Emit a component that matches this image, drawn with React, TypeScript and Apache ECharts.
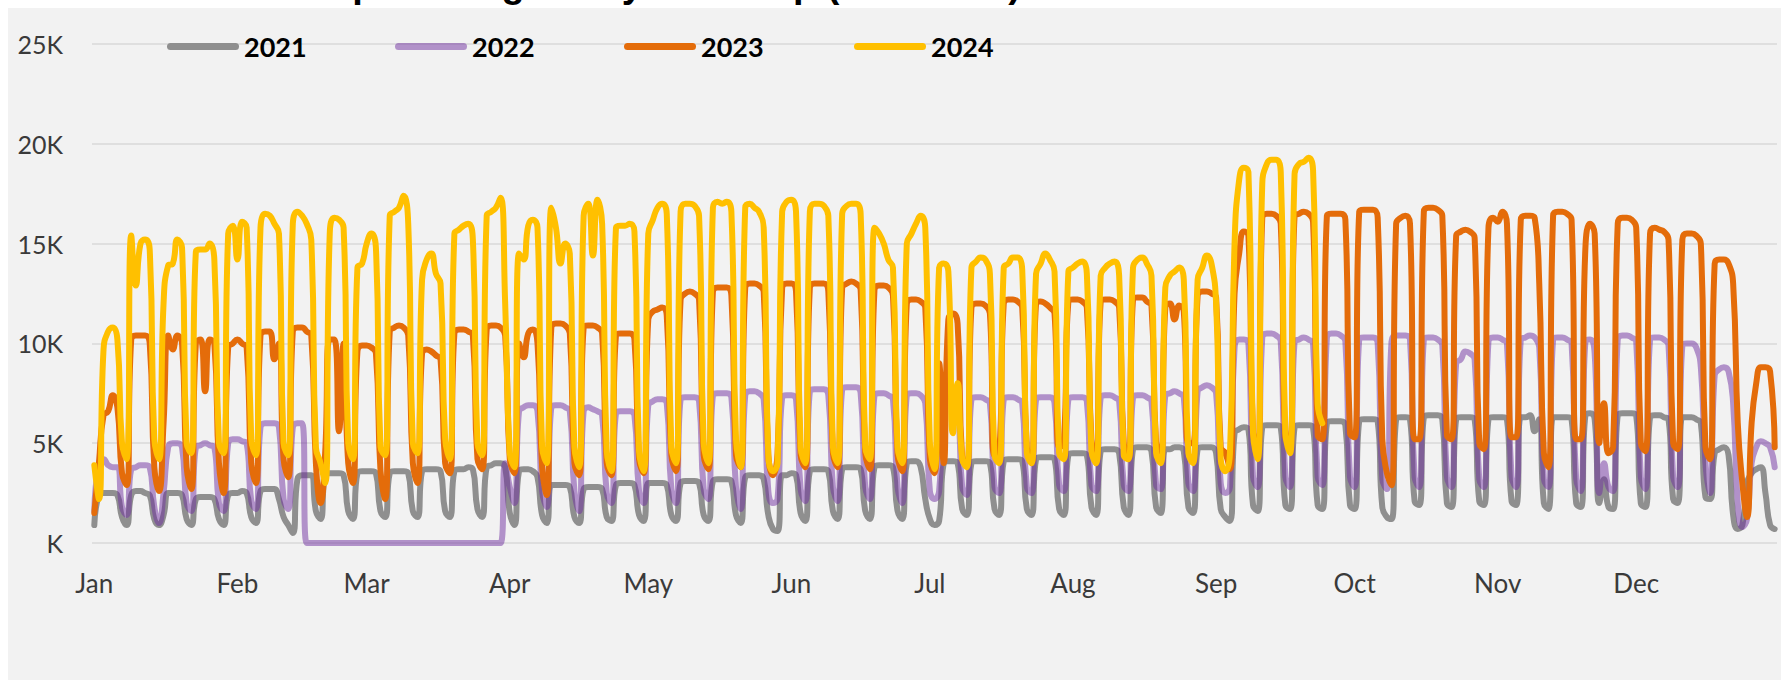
import React, { useEffect, useRef } from "react";
import * as echarts from "echarts";

const MONTHS = ["Jan", "Feb", "Mar", "Apr", "May", "Jun", "Jul", "Aug", "Sep", "Oct", "Nov", "Dec"];
const MONTH_DAYS = [31, 28, 31, 30, 31, 30, 31, 31, 30, 31, 30, 31];
const YEARS = ["2021", "2022", "2023", "2024"];
const COLORS = ["#8f8f8f", "rgba(112,48,160,0.5)", "#e46c0a", "#ffc000"];
const TITLE = "SamTrans Ridership: Average daily ridership (APC data)";

// Daily riders in hundreds, weekday-aligned (each row: Sun..Sat)
const R2021 = [
  9,24,25,25,25,24,13,
  9,24,26,26,25,24,12,
  9,14,25,25,25,24,12,
  9,22,23,23,23,22,12,
  9,24,25,25,26,25,13,
  10,26,27,27,27,22,13,
  9,5,32,34,34,34,16,
  12,34,35,35,35,34,16,
  12,35,36,36,36,35,16,
  13,35,36,36,36,35,16,
  13,36,37,37,37,36,16,
  13,36,37,37,38,37,17,
  13,38,39,40,40,38,15,
  9,36,37,37,36,33,14,
  10,29,29,29,29,28,13,
  10,27,28,28,28,27,13,
  11,29,30,30,30,29,14,
  11,30,30,30,30,29,14,
  11,30,31,31,31,30,14,
  11,31,32,32,32,31,14,
  10,33,34,34,34,32,14,
  7,6,34,34,35,34,15,
  11,36,37,37,37,36,16,
  12,37,38,38,38,37,16,
  12,38,39,39,39,38,16,
  12,40,41,41,38,22,12,
  9,11,40,41,41,40,17,
  14,40,41,41,41,40,17,
  14,41,42,42,42,41,17,
  14,42,43,43,43,42,17,
  14,44,45,45,45,44,18,
  14,46,47,47,47,45,18,
  14,47,48,48,48,46,18,
  15,47,47,48,48,46,18,
  15,47,48,48,48,45,17,
  13,11,55,57,58,57,19,
  16,58,59,59,59,58,19,
  17,58,59,59,59,58,19,
  17,60,61,61,61,59,19,
  17,61,62,62,62,61,18,
  13,12,62,63,63,62,21,
  19,63,64,64,64,62,20,
  18,62,63,63,63,62,21,
  19,62,63,63,63,62,21,
  19,63,63,64,56,62,20,
  17,63,63,63,63,62,20,
  18,64,65,62,20,32,18,
  17,64,65,65,65,64,20,
  18,63,64,64,63,62,22,
  20,63,63,63,62,60,23,
  22,45,47,48,44,14,7,
  9,30,35,37,38,25,9,
  7
];

const R2022 = [
  16,40,42,39,38,38,18,
  14,37,38,39,39,38,18,
  10,25,48,50,50,48,20,
  16,48,49,50,49,48,20,
  16,50,52,52,51,50,21,
  17,58,60,60,60,58,22,
  17,58,60,60,0,0,0,
  0,0,0,0,0,0,0,
  0,0,0,0,0,0,0,
  0,0,0,0,0,0,0,
  0,0,0,0,0,0,0,
  0,0,0,0,0,0,0,
  0,0,0,0,0,40,28,
  20,66,68,69,69,66,26,
  18,68,69,69,68,66,26,
  16,66,68,67,66,64,25,
  20,65,66,66,66,64,26,
  20,69,71,72,72,70,27,
  20,72,73,73,73,71,27,
  22,74,75,75,75,73,28,
  17,74,76,76,75,72,26,
  20,22,73,74,74,72,27,
  21,76,77,77,77,74,28,
  21,77,78,78,78,75,28,
  22,74,75,75,74,72,28,
  20,74,75,75,74,70,26,
  22,26,72,73,73,71,28,
  24,72,73,73,72,70,28,
  25,72,73,73,72,70,28,
  25,72,73,73,73,70,29,
  26,72,73,73,73,71,29,
  26,73,74,74,73,71,29,
  26,73,74,74,73,71,29,
  27,74,75,76,75,73,30,
  26,76,78,79,78,75,30,
  25,28,98,102,102,100,33,
  28,103,105,105,104,101,33,
  28,101,102,103,102,100,33,
  29,103,105,105,104,101,33,
  28,102,103,103,103,100,32,
  27,101,104,104,104,102,33,
  28,102,103,103,102,99,33,
  28,90,92,96,95,92,32,
  28,101,103,103,102,100,33,
  28,102,103,104,103,98,32,
  28,102,103,103,102,100,32,
  26,101,102,95,25,40,28,
  26,102,104,104,103,101,33,
  27,102,103,103,102,99,33,
  28,99,100,100,98,88,40,
  25,84,87,88,86,70,20,
  8,12,40,48,51,50,48,
  38
];

const R2023 = [
  15,40,64,66,74,68,35,
  29,102,104,104,104,100,38,
  26,60,104,97,104,100,38,
  27,100,102,76,102,100,40,
  25,98,100,102,100,98,40,
  30,104,106,106,92,100,42,
  33,106,108,108,106,104,40,
  20,45,102,102,56,100,40,
  30,96,99,99,98,95,36,
  22,106,108,109,108,104,40,
  30,95,97,96,94,92,40,
  35,105,107,107,106,104,42,
  37,107,109,109,108,104,42,
  35,100,93,105,107,100,38,
  24,108,110,110,109,105,40,
  34,108,109,109,108,105,40,
  34,104,105,105,105,102,42,
  35,112,116,117,118,114,44,
  36,122,125,126,125,122,44,
  37,126,128,128,128,124,44,
  38,128,130,130,129,126,44,
  34,45,128,130,130,126,44,
  38,128,130,130,130,126,45,
  38,128,130,131,130,127,45,
  37,127,129,129,128,124,44,
  36,120,122,122,121,118,42,
  35,90,40,112,115,110,42,
  40,118,120,120,119,115,44,
  45,120,122,122,121,118,48,
  40,120,121,120,118,115,48,
  50,121,122,122,121,118,52,
  40,121,122,122,121,118,50,
  42,122,123,123,121,119,50,
  45,118,120,112,119,116,50,
  50,124,126,126,125,123,48,
  45,37,125,145,156,154,55,
  48,163,165,165,164,160,53,
  52,164,165,166,165,161,54,
  52,164,165,165,165,162,55,
  53,166,167,167,167,163,52,
  35,29,160,163,164,160,52,
  52,166,168,168,167,164,54,
  52,154,156,157,156,153,50,
  47,158,163,161,166,160,53,
  53,162,164,164,163,130,45,
  38,164,166,166,165,162,52,
  52,148,160,155,50,70,45,
  48,160,163,163,162,158,50,
  46,155,158,157,156,152,50,
  47,152,155,155,154,150,48,
  42,140,142,142,140,130,60,
  30,13,60,80,88,88,86,
  48
];

const R2024 = [
  39,22,97,106,108,102,50,
  42,154,129,150,152,147,52,
  42,120,139,140,152,148,50,
  45,146,147,147,150,142,50,
  45,155,159,142,161,158,52,
  44,158,165,164,160,155,50,
  44,160,166,164,160,152,48,
  40,30,155,163,162,158,50,
  42,138,140,150,155,148,48,
  44,164,166,168,174,160,50,
  45,132,142,145,135,130,52,
  42,155,157,159,160,152,50,
  44,164,166,168,173,120,45,
  38,145,142,159,162,158,48,
  40,168,158,140,150,145,48,
  38,164,170,144,172,160,46,
  36,158,159,159,160,156,46,
  36,155,162,168,170,165,48,
  40,166,170,170,169,164,50,
  40,168,171,170,171,166,52,
  38,168,170,168,166,158,44,
  36,40,166,171,172,166,48,
  40,166,170,170,169,164,48,
  40,165,169,170,170,165,48,
  42,158,155,150,142,138,48,
  40,150,155,160,164,158,50,
  37,138,140,136,55,80,42,
  38,138,141,143,142,135,44,
  40,138,140,143,143,137,45,
  40,135,140,145,142,136,45,
  42,136,138,140,141,135,46,
  40,134,138,140,141,134,44,
  42,138,142,143,140,134,45,
  40,128,134,136,138,132,45,
  40,132,138,144,140,120,42,
  36,45,150,182,188,186,55,
  42,180,190,192,192,186,55,
  45,185,190,191,193,187,70,
  60
];

const DAY_LABELS: string[] = [];
MONTHS.forEach((m, i) => {
  for (let d = 1; d <= MONTH_DAYS[i]; d++) DAY_LABELS.push(m + " " + d);
});

const LEGEND_LEFT = [167, 395, 624, 854];
const FONT = "Lato";

export default function App() {
  const ref = useRef<HTMLDivElement>(null);
  useEffect(() => {
    const chart = echarts.init(ref.current!, undefined, { renderer: "svg" });
    const all = [R2021, R2022, R2023, R2024];
    const series = all.map((arr, i) => ({
      name: YEARS[i],
      type: "line",
      data: arr.map((v) => v * 100),
      showSymbol: false,
      symbol: "none",
      smooth: 0.5,
      color: COLORS[i],
      lineStyle: { width: 6, cap: "round", join: "round", color: COLORS[i] },
      emphasis: { disabled: true },
      silent: true,
    }));
    const legends = YEARS.map((y, i) => ({
      data: [y],
      left: LEGEND_LEFT[i],
      top: 33,
      padding: 0,
      itemWidth: 72,
      itemHeight: 7,
      itemGap: 0,
      selectedMode: false,
      icon: "path://M3.5,0H68.5A3.5,3.5,0,0,1,68.5,7H3.5A3.5,3.5,0,0,1,3.5,0Z",
      textStyle: { fontFamily: FONT, fontWeight: "bold", fontSize: 27, color: "#000", lineHeight: 26 },
    }));
    chart.setOption({
      animation: false,
      backgroundColor: "#ffffff",
      graphic: [
        {
          type: "rect",
          z: -10,
          silent: true,
          shape: { x: 8, y: 8, width: 1773, height: 672 },
          style: { fill: "#f2f2f2" },
        },
        {
          type: "text",
          z: 5,
          silent: true,
          x: 8,
          y: -35,
          style: { text: TITLE, font: 'bold 38px "Liberation Sans"', fill: "#000" },
        },
        {
          type: "rect",
          z: 6,
          silent: true,
          shape: { x: 8, y: 8, width: 1773, height: 20 },
          style: { fill: "#f2f2f2" },
        },
      ],
      legend: legends,
      grid: { left: 92, right: 4, top: 44, bottom: 137, containLabel: false },
      xAxis: {
        type: "category",
        data: DAY_LABELS,
        boundaryGap: true,
        axisLine: { show: false },
        axisTick: { show: false },
        splitLine: { show: false },
        axisLabel: {
          interval: (_i: number, v: string) => v.endsWith(" 1"),
          formatter: (v: string) => v.split(" ")[0],
          fontFamily: FONT,
          fontSize: 26,
          lineHeight: 26,
          color: "#3a3a3a",
          margin: 27,
        },
      },
      yAxis: {
        type: "value",
        min: 0,
        max: 25000,
        interval: 5000,
        axisLine: { show: false },
        axisTick: { show: false },
        splitLine: { lineStyle: { color: "#d9d9d9", width: 1.5 } },
        axisLabel: {
          formatter: (v: number) => (v === 0 ? "K" : v / 1000 + "K"),
          fontFamily: FONT,
          fontSize: 25,
          color: "#3a3a3a",
          margin: 29,
        },
      },
      series,
    });
    return () => chart.dispose();
  }, []);
  return <div ref={ref} style={{ position: "absolute", left: 0, top: 0, width: 1781, height: 680 }} />;
}
